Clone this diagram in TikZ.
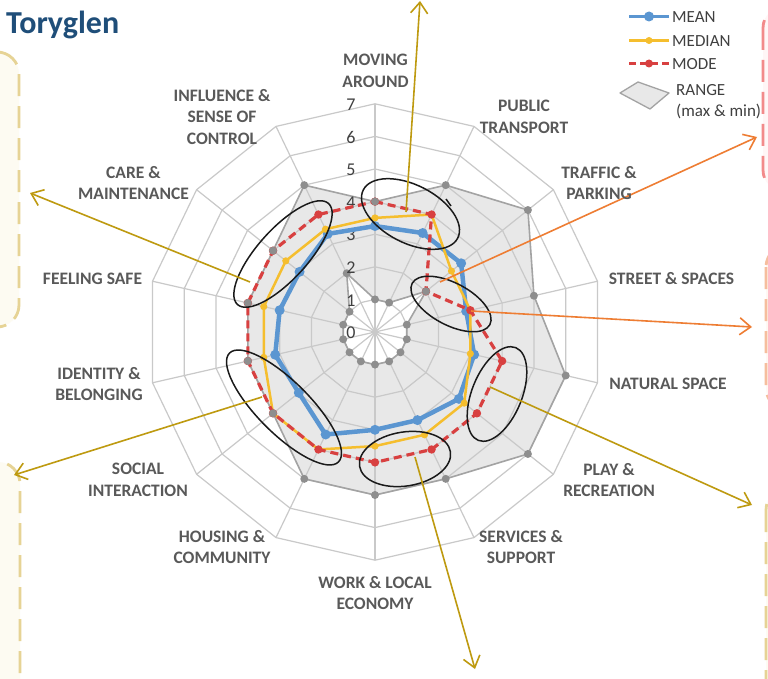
\documentclass[tikz,border=0pt]{standalone}
\usepackage{fontspec}
\setmainfont{Carlito}
\usetikzlibrary{arrows.meta}
\definecolor{gridc}{HTML}{C9C9C9}
\definecolor{rangefill}{HTML}{E8E8E8}
\definecolor{rangeline}{HTML}{A3A3A3}
\definecolor{rangedot}{HTML}{8E8E8E}
\definecolor{meanc}{HTML}{5B96D1}
\definecolor{medc}{HTML}{F5BE2E}
\definecolor{modec}{HTML}{D84040}
\definecolor{goldc}{HTML}{BE9A10}
\definecolor{orangec}{HTML}{EE7D33}
\definecolor{labc}{HTML}{595959}
\definecolor{tickc}{HTML}{404040}
\definecolor{titlec}{HTML}{1F4E79}
\definecolor{tanc}{HTML}{E6D395}
\definecolor{creamc}{HTML}{FDFBF2}
\definecolor{pinkc}{HTML}{F28B8B}
\definecolor{pinkf}{HTML}{FFF6F6}
\definecolor{peachc}{HTML}{F6BE9E}
\definecolor{peachf}{HTML}{FFF8F3}
\definecolor{ellc}{HTML}{1A1A1A}
\def\radu{32.6}
\newcommand\radseries[3]{\path[#1] (-90:#2*\radu) \foreach \v [count=\k] in {#3} { -- (\k*360/14-90:\v*\radu)} -- cycle;}
\newcommand\raddots[3]{\foreach \v [count=\k from 0] in {#3} {\fill[#1] (\k*360/14-90:\v*\radu) circle[radius=#2];}}
\begin{document}
\begin{tikzpicture}[x=1pt,y=-1pt,
  lab/.style={font=\fontsize{17.5}{21.5}\selectfont\bfseries, text=labc, align=center, inner sep=0pt},
  tick/.style={font=\fontsize{18}{20}\selectfont, text=tickc, inner sep=0pt},
  legtxt/.style={font=\fontsize{17}{21}\selectfont, text=tickc, anchor=west, inner sep=0pt},
  gridline/.style={draw=gridc, line width=1.2pt},
  rangeout/.style={draw=rangeline, line width=1.6pt, line join=round},
  meanline/.style={draw=meanc, line width=4.5pt, line join=round},
  medline/.style={draw=medc, line width=2.5pt, line join=round},
  modeline/.style={draw=modec, line width=3.2pt, dash pattern=on 8pt off 5pt, line join=round},
  handell/.style={draw=ellc, line width=1.5pt},
  goldarrow/.style={draw=goldc, line width=1.6pt, -{Straight Barb[length=11pt,width=17pt]}},
  orangearrow/.style={draw=orangec, line width=1.6pt, -{Straight Barb[length=11pt,width=17pt]}},
  notebox/.style={line width=2.8pt, dash pattern=on 22pt off 10pt, rounded corners=22pt},
]
\useasboundingbox (0,0) rectangle (768,679);
\clip (0,0) rectangle (768,679);
\fill[white] (0,0) rectangle (768,679);
% side note boxes
\draw[notebox, draw=tanc, fill=creamc] (-60,52) rectangle (19,327);
\draw[notebox, draw=tanc, fill=creamc] (-60,462) rectangle (20,740);
\draw[notebox, draw=pinkc, fill=pinkf] (763,6) rectangle (840,192);
\draw[notebox, draw=peachc, fill=peachf] (766,245) rectangle (840,410);
\draw[notebox, draw=tanc, fill=creamc] (766,488) rectangle (840,740);
% title
\node[anchor=base west, inner sep=0pt, font=\fontsize{32}{34}\selectfont\bfseries, text=titlec] (title) at (6,34) {Toryglen};
% radar chart
\begin{scope}[shift={(375,332)}]
  \radseries{fill=rangefill}{4}{5,6,5,6,6,5,5,5,4,4,4,4,5}
  \radseries{fill=white}{1}{1,2,1,1,1,1,1,1,1,1,1,1,2}
  \foreach \l in {1,...,7}{\draw[gridline] (-90:\l*\radu) \foreach \k in {1,...,13}{ -- (\k*360/14-90:\l*\radu)} -- cycle;}
  \foreach \k in {0,...,13}{\draw[gridline] (0,0) -- (\k*360/14-90:7*\radu);}
  \radseries{rangeout}{4}{5,6,5,6,6,5,5,5,4,4,4,4,5}
  \radseries{rangeout}{1}{1,2,1,1,1,1,1,1,1,1,1,1,2}
  \raddots{rangedot}{4pt}{4,5,6,5,6,6,5,5,5,4,4,4,4,5}
  \raddots{rangedot}{4pt}{1,1,2,1,1,1,1,1,1,1,1,1,1,2}
\end{scope}
% tick labels
\foreach \t in {0,...,7}{\node[tick] (tk\t) at (351,{333-\t*\radu}) {\t};}
\begin{scope}[shift={(375,332)}]
  \radseries{meanline}{3.25}{3.37,3.38,2.87,3.12,3.29,3.0,3.0,3.49,2.99,3.14,3.0,2.96,3.34}
  \raddots{meanc}{5pt}{3.25,3.37,3.38,2.87,3.12,3.29,3.0,3.0,3.49,2.99,3.14,3.0,2.96,3.34}
  \radseries{medline}{3.5}{4,3,3,3,3.5,3.5,3.5,4,4,3.5,3.5,3.5,3.5}
  \raddots{medc}{3.6pt}{3.5,4,3,3,3,3.5,3.5,3.5,4,4,3.5,3.5,3.5,3.5}
  \radseries{modeline}{4}{4,2,3,4,4,4,4,4,4,4,4,4,4}
  \raddots{modec}{4.2pt}{4,4,2,3,4,4,4,4,4,4,4,4,4,4}
  \fill[rangedot] (-90:4*\radu) circle[radius=4pt];
  \fill[rangedot] (2*360/14-90:2*\radu) circle[radius=4pt];
  \foreach \k in {9,10,11,12}{\fill[rangedot] (\k*360/14-90:4*\radu) circle[radius=4pt];}
\end{scope}
% hand-drawn ellipses
\draw[handell, rotate around={-27:(410.5,214)}] (410.5,214) ellipse [x radius=53pt, y radius=29pt];
\draw[handell] (446,199) -- (451,206);
\draw[handell, rotate around={48:(283,254)}] (283,254) ellipse [x radius=68pt, y radius=25pt];
\draw[handell, rotate around={-45:(284,407.5)}] (284,407.5) ellipse [x radius=77pt, y radius=26pt];
\draw[handell, rotate around={-28:(451,304)}] (451,304) ellipse [x radius=44pt, y radius=21pt];
\draw[handell, rotate around={68:(497,394)}] (497,394) ellipse [x radius=50pt, y radius=25pt];
\draw[handell, rotate around={9:(405,459)}] (405,459) ellipse [x radius=46pt, y radius=27pt];
% arrows
\coordinate (a1s) at (406,212); \coordinate (a1e) at (420,1);
\coordinate (a2s) at (250,282); \coordinate (a2e) at (30,193);
\coordinate (a3s) at (262,397); \coordinate (a3e) at (14,475);
\coordinate (a4s) at (440,282); \coordinate (a4e) at (757,137);
\coordinate (a5s) at (471,311); \coordinate (a5e) at (752,327);
\coordinate (a6s) at (490,387); \coordinate (a6e) at (752,505);
\coordinate (a7s) at (415,457); \coordinate (a7e) at (475,669);
\draw[goldarrow] (a1s) -- (a1e);
\draw[goldarrow] (a2s) -- (a2e);
\draw[goldarrow] (a3s) -- (a3e);
\draw[orangearrow] (a4s) -- (a4e);
\draw[orangearrow] (a5s) -- (a5e);
\draw[goldarrow] (a6s) -- (a6e);
\draw[goldarrow] (a7s) -- (a7e);
% category labels
\node[lab] (l0) at (375.5,71) {MOVING\\AROUND};
\node[lab] (l1) at (524,117) {PUBLIC\\TRANSPORT};
\node[lab] (l2) at (599,183) {TRAFFIC \&\\PARKING};
\node[lab] (l3) at (671.5,279) {STREET \& SPACES};
\node[lab] (l4) at (668,384) {NATURAL SPACE};
\node[lab] (l5) at (609,480) {PLAY \&\\RECREATION};
\node[lab] (l6) at (521,547) {SERVICES \&\\SUPPORT};
\node[lab] (l7) at (375,593) {WORK \& LOCAL\\ECONOMY};
\node[lab] (l8) at (222,547) {HOUSING \&\\COMMUNITY};
\node[lab] (l9) at (138,480) {SOCIAL\\INTERACTION};
\node[lab] (l10) at (99,384) {IDENTITY \&\\BELONGING};
\node[lab] (l11) at (92.5,279) {FEELING SAFE};
\node[lab] (l12) at (133.5,183) {CARE \&\\MAINTENANCE};
\node[lab] (l13) at (222,117) {INFLUENCE \&\\SENSE OF\\CONTROL};
% legend
\draw[meanc, line width=3.5pt] (629,16.5) coordinate (lg1a) -- (669,16.5) coordinate (lg1b);
\fill[meanc] (649,16.5) circle[radius=5pt];
\node[legtxt] (lt1) at (672,17) {MEAN};
\draw[medc, line width=2.2pt] (629,40.5) coordinate (lg2a) -- (669,40.5) coordinate (lg2b);
\fill[medc] (649,40.5) circle[radius=3.5pt];
\node[legtxt] (lt2) at (672,41) {MEDIAN};
\draw[modec, line width=3pt, dash pattern=on 7pt off 4pt] (629,63.5) coordinate (lg3a) -- (669,63.5) coordinate (lg3b);
\fill[modec] (649,63.5) circle[radius=4pt];
\node[legtxt] (lt3) at (672,64) {MODE};
\draw[fill=rangefill, draw=rangeline, line width=1.3pt, line join=round] (620,93) -- (638,82) -- (669,93) -- (650,109) -- cycle;
\node[legtxt] (lt4) at (676,90) {RANGE};
\node[legtxt] (lt5) at (676,111) {(max \& min)};
\end{tikzpicture}
\end{document}
